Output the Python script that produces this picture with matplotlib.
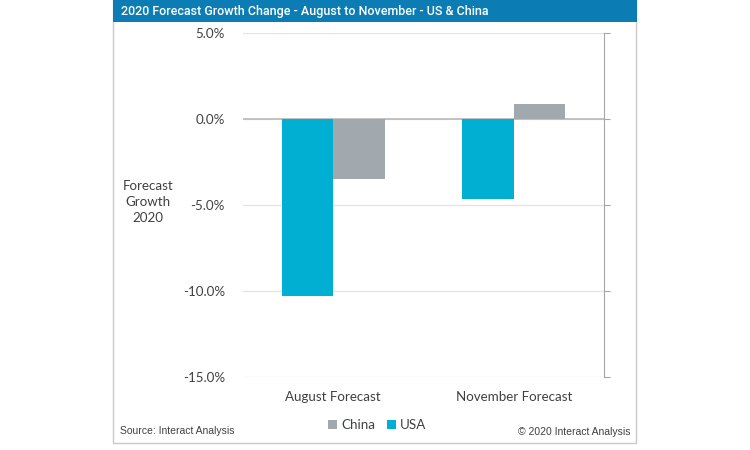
import numpy as np
import matplotlib.pyplot as plt
from matplotlib.patches import Rectangle

# data
categories = ["August Forecast", "November Forecast"]
usa = [-10.3, -4.65]
china = [-3.5, 0.9]
yticks = [-15, -10, -5, 0, 5]

usa_color = "#00afd1"
china_color = "#a2a9ae"

fig = plt.figure(figsize=(7.5, 4.5), dpi=100)
W, H = 750, 450

# outer frame and title bar
fig.patches.append(Rectangle((113.5 / W, 1 - 443 / H), (636 - 113.5) / W, 443 / H,
                             transform=fig.transFigure, facecolor="white",
                             edgecolor="#c9c9c9", lw=1, zorder=-2))
fig.patches.append(Rectangle((113 / W, 1 - 22 / H), (637 - 113) / W, 22 / H,
                             transform=fig.transFigure, facecolor="#0b7db4",
                             edgecolor="none", zorder=-1))
fig.text(121 / W, 1 - 11.5 / H, "2020 Forecast Growth Change - August to November - US & China",
         color="white", fontsize=9.0, fontweight="medium", family="Roboto",
         va="center", ha="left")

ax = fig.add_axes([243 / W, 1 - 377 / H, (604 - 243) / W, (377 - 33) / H], zorder=2)
ax.set_facecolor("none")

x = np.arange(len(categories))
w = 0.285
ax.bar(x - w / 2, usa, w, color=usa_color, label="USA", zorder=3)
ax.bar(x + w / 2, china, w, color=china_color, label="China", zorder=3)

fs = 9.6
ax.set_xlim(-0.5, 1.5)
ax.set_ylim(-15, 5)
ax.set_yticks(yticks)
ax.set_yticklabels([f"{v:.1f}%" for v in yticks], fontsize=fs, family="Lato", color="#404040")
ax.set_xticks(x)
ax.set_xticklabels(categories, fontsize=fs, family="Lato", color="#404040")
ax.tick_params(axis="x", length=0, pad=10)
ax.tick_params(axis="y", left=False, right=True, labelleft=True, labelright=False,
               length=4, color="#a6a6a6", pad=9)
for s in ["left", "top", "bottom"]:
    ax.spines[s].set_visible(False)
ax.spines["right"].set_color("#a6a6a6")
ax.grid(axis="y", color="#e3e3e3", lw=0.9, zorder=0)
ax.axhline(0, color="#bdbdbd", lw=1.3, zorder=2)

fig.text(148 / W, 1 - 202 / H, "Forecast\nGrowth\n2020", ha="center", va="center",
         fontsize=fs, family="Lato", color="#404040", linespacing=1.45)

handles, labels = ax.get_legend_handles_labels()
fig.legend(handles[::-1], labels[::-1], loc="center", bbox_to_anchor=(377 / W, 1 - 425 / H),
           ncol=2, frameon=False, prop={"family": "Lato", "size": fs},
           handlelength=0.7, handleheight=0.7, handletextpad=0.3, columnspacing=0.9,
           labelcolor="#404040")

fig.text(120 / W, 1 - 431 / H, "Source: Interact Analysis", fontsize=7.5,
         family="Liberation Sans", color="#404040", va="center")
fig.text(630 / W, 1 - 432 / H, "© 2020 Interact Analysis", fontsize=7.5,
         family="Liberation Sans", color="#404040", va="center", ha="right")

fig.savefig("out.png", dpi=100)
